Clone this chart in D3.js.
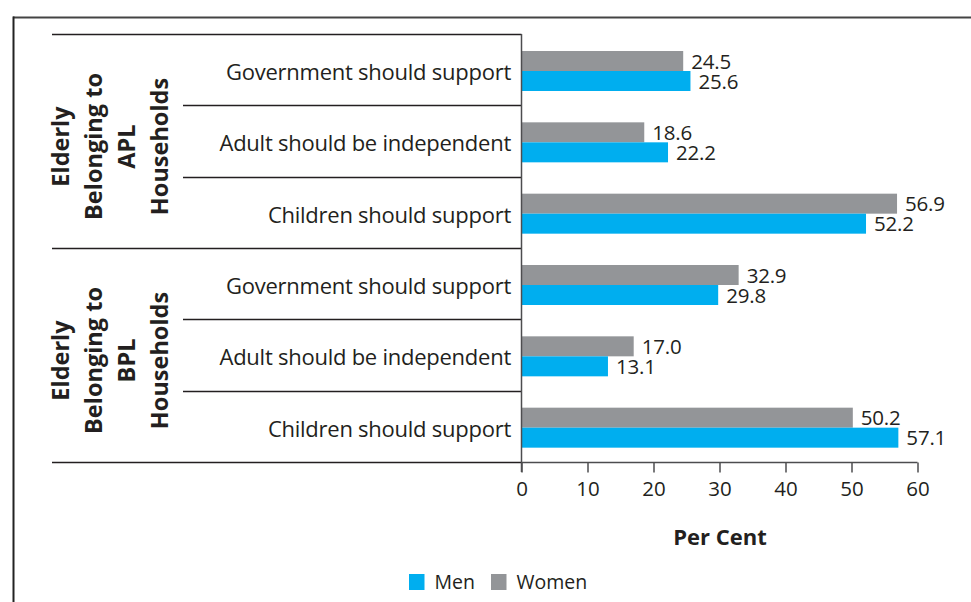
<!DOCTYPE html>
<html>
<head>
<meta charset="utf-8">
<script src="https://cdn.jsdelivr.net/npm/d3@7/dist/d3.min.js"></script>
<style>
  html, body { margin: 0; padding: 0; background: #fff; }
  svg { display: block; }
  text { font-family: "Open Sans", "Noto Sans", sans-serif; fill: #231f20; }
</style>
</head>
<body>
<svg id="chart" width="971" height="602"></svg>
<script>
// Views on support for the elderly, by household type and sex (per cent)
const groups = ["Elderly\nBelonging to\nAPL\nHouseholds", "Elderly\nBelonging to\nBPL\nHouseholds"];
const categories = [
  "Government should support",
  "Adult should be independent",
  "Children should support"
];
const series = ["Women", "Men"];
const legendOrder = ["Men", "Women"];
// values per group, in category order
const womenValues = [[24.5, 18.6, 56.9], [32.9, 17.0, 50.2]];
const menValues   = [[25.6, 22.2, 52.2], [29.8, 13.1, 57.1]];
const tickValues = [0, 10, 20, 30, 40, 50, 60];
const axisTitle = "Per Cent";

const colors = { Men: "#00aeef", Women: "#939598" };

const rows = [];
groups.forEach((g, gi) => {
  categories.forEach((c, ci) => {
    rows.push({ key: gi + "|" + c, group: gi, category: c,
      Women: womenValues[gi][ci], Men: menValues[gi][ci] });
  });
});

const svg = d3.select("#chart");

// outer frame (top and left rules)
svg.append("line").attr("x1", 13).attr("x2", 971).attr("y1", 17.5).attr("y2", 17.5)
  .attr("stroke", "#444").attr("stroke-width", 2);
svg.append("line").attr("x1", 13.5).attr("x2", 13.5).attr("y1", 16.5).attr("y2", 602)
  .attr("stroke", "#222").attr("stroke-width", 2);

const x = d3.scaleLinear().domain([0, 60]).range([521.5, 917.5]);
const y = d3.scaleBand().domain(rows.map(r => r.key)).range([34, 462]);
const ySub = d3.scaleBand().domain(series).range([17, 57]);

// row separators
const bw = y.bandwidth();
const boundaries = d3.range(rows.length + 1).map(i => 34 + i * bw);
svg.append("g").selectAll("line").data(boundaries).join("line")
  .attr("x1", (d, i) => (i % 3 === 0 ? 52 : 183))
  .attr("x2", 521.5)
  .attr("y1", d => Math.round(d) + 0.5)
  .attr("y2", d => Math.round(d) + 0.5)
  .attr("stroke", "#231f20").attr("stroke-width", 1.3);

// bars
const rowG = svg.append("g").selectAll("g").data(rows).join("g")
  .attr("transform", d => `translate(0,${y(d.key)})`);

rowG.selectAll("rect").data(d => series.map(s => ({ s, v: d[s] }))).join("rect")
  .attr("x", x(0))
  .attr("y", d => ySub(d.s))
  .attr("width", d => x(d.v) - x(0))
  .attr("height", ySub.bandwidth())
  .attr("fill", d => colors[d.s]);

rowG.selectAll("text.val").data(d => series.map(s => ({ s, v: d[s] }))).join("text")
  .attr("class", "val")
  .attr("x", d => x(d.v) + 8)
  .attr("y", d => ySub(d.s) + ySub.bandwidth() - 2.5)
  .style("font-size", "20.5px")
  .style("letter-spacing", "-0.2px")
  .text(d => d.v.toFixed(1));

// category labels
rowG.append("text")
  .attr("x", 511)
  .attr("y", bw / 2 + 10.5)
  .attr("text-anchor", "end")
  .style("font-size", "22px")
  .style("letter-spacing", "-0.25px")
  .text(d => d.category);

// group labels (rotated)
groups.forEach((g, gi) => {
  const cy = 34 + gi * 3 * bw + 1.5 * bw + 5.5;
  const lines = g.split("\n");
  const t = svg.append("text")
    .attr("transform", `translate(0,${cy}) rotate(-90)`)
    .attr("text-anchor", "middle")
    .style("font-size", "23.5px")
    .style("font-weight", "700");
  lines.forEach((ln, li) => {
    t.append("tspan").attr("x", 0).attr("y", 69 + li * 33).text(ln);
  });
});

// x axis
const xAxis = d3.axisBottom(x).tickValues(tickValues).tickSize(10).tickPadding(9)
  .tickFormat(d3.format("d"));
const ax = svg.append("g").attr("transform", "translate(0,462.5)").call(xAxis);
ax.select(".domain").attr("stroke", "#4d4d4f").attr("stroke-width", 1.5)
  .attr("d", `M${x(0)},0H${x(60)}`);
ax.selectAll(".tick line").attr("stroke", "#4d4d4f").attr("stroke-width", 1.5);
ax.selectAll(".tick text").style("font-size", "20.5px").attr("fill", "#231f20")
  .style("font-family", "\"Open Sans\", sans-serif");

// vertical baseline at zero
svg.append("line").attr("x1", x(0)).attr("x2", x(0)).attr("y1", 34).attr("y2", 472)
  .attr("stroke", "#4d4d4f").attr("stroke-width", 1.5);

// axis title
svg.append("text").attr("x", 720).attr("y", 545).attr("text-anchor", "middle")
  .style("font-size", "22px").style("font-weight", "700").text(axisTitle);

// legend
const legendX = [409, 491];
const lg = svg.append("g").selectAll("g").data(legendOrder).join("g")
  .attr("transform", (d, i) => `translate(${legendX[i]},574)`);
lg.append("rect").attr("width", 15.5).attr("height", 16).attr("fill", d => colors[d]);
lg.append("text").attr("x", 25.5).attr("y", 14.5).style("font-size", "19.5px").text(d => d);
</script>
</body>
</html>
